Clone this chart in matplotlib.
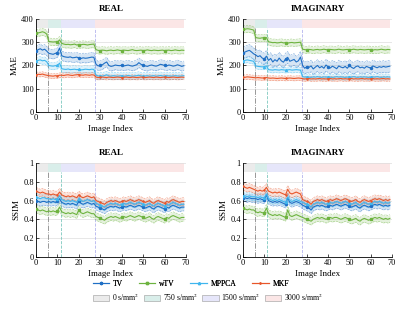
import matplotlib
matplotlib.use("Agg")
import matplotlib.pyplot as plt
import numpy as np
from matplotlib.lines import Line2D
from matplotlib.patches import Patch

plt.rcParams['font.family'] = ['Liberation Serif', 'DejaVu Serif']
plt.rcParams['mathtext.fontset'] = 'stix'

idx = np.arange(70)
methods = ['TV', 'wTV', 'MPPCA', 'MKF']
b_labels = ['0 s/mm$^2$', '750 s/mm$^2$', '1500 s/mm$^2$', '3000 s/mm$^2$']
b_edges = [0, 5.5, 11.5, 27.5, 69]

# ---- MAE real
mae_re_tv = [262, 268, 272, 266, 270, 262,
             252, 250, 248, 252, 255, 275,
             242, 238, 236, 235, 237, 233, 234, 236, 232, 230, 233, 231, 232, 234, 236, 235,
             205, 198, 200, 203, 210, 215, 200, 196, 198, 202, 200, 199, 201, 198, 200, 202, 199, 197, 200, 203, 212,
             205, 200, 198, 196, 200, 202, 199, 197, 200, 205, 203, 200, 198, 202, 200, 197, 199, 203, 200, 196, 199]
mae_re_wtv = [338, 340, 342, 345, 342, 335,
              303, 302, 301, 302, 300, 310,
              295, 292, 290, 291, 289, 290, 292, 288, 290, 289, 291, 290, 288, 290, 291, 292,
              268, 265, 264, 266, 265, 263, 265, 266, 264, 265, 267, 265, 264, 266, 265, 264, 266, 268, 265, 264, 265,
              266, 264, 265, 267, 265, 264, 266, 265, 264, 265, 266, 264, 265, 266, 264, 265, 267, 265, 264, 266, 265]
mae_re_mppca = [218, 222, 224, 220, 222, 216,
                200, 198, 197, 199, 200, 210,
                186, 184, 183, 185, 182, 183, 184, 182, 183, 181, 182, 184, 183, 182, 184, 183,
                158, 155, 156, 154, 157, 160, 155, 154, 156, 155, 154, 155, 156, 154, 155, 157, 155, 154, 155, 156, 158,
                155, 154, 155, 156, 154, 155, 156, 154, 155, 157, 155, 154, 156, 155, 154, 155, 156, 155, 154, 155, 156]
mae_re_mkf = [160, 162, 161, 163, 160, 158,
              156, 155, 154, 156, 155, 158,
              158, 157, 159, 160, 158, 157, 159, 160, 161, 159, 158, 160, 159, 158, 160, 159,
              150, 148, 149, 150, 149, 148, 150, 149, 148, 149, 150, 149, 148, 149, 150, 149, 148, 150, 149, 148, 149,
              150, 149, 148, 149, 150, 149, 148, 150, 149, 148, 149, 150, 149, 148, 149, 150, 149, 148, 149, 150, 149]

# ---- MAE imaginary
mae_im_tv = [255, 258, 262, 265, 258, 250,
             245, 238, 242, 232, 228, 240,
             222, 230, 215, 225, 218, 232, 220, 214, 228, 235, 218, 222, 226, 215, 220, 236,
             200, 188, 195, 192, 198, 185, 193, 200, 190, 196, 188, 202, 194, 189, 197, 192, 186, 198, 193, 190, 196,
             188, 200, 192, 187, 195, 198, 190, 193, 188, 196, 192, 189, 198, 194, 190, 195, 192, 196, 193, 195, 197]
mae_im_wtv = [355, 356, 358, 357, 355, 352,
              320, 318, 317, 319, 318, 320,
              302, 300, 298, 299, 297, 298, 300, 297, 298, 296, 298, 299, 297, 298, 299, 300,
              270, 268, 267, 269, 268, 266, 268, 269, 267, 268, 270, 268, 267, 269, 268, 267, 268, 270, 268, 267, 268,
              269, 267, 268, 270, 268, 267, 269, 268, 267, 268, 269, 267, 266, 268, 267, 268, 270, 268, 267, 269, 268]
mae_im_mppca = [220, 222, 224, 222, 220, 218,
                198, 196, 195, 194, 195, 198,
                182, 181, 180, 182, 181, 180, 182, 181, 180, 181, 182, 180, 181, 182, 181, 180,
                152, 150, 151, 150, 149, 151, 150, 152, 150, 149, 151, 150, 151, 150, 149, 150, 152, 150, 151, 150, 149,
                150, 151, 150, 152, 150, 149, 151, 150, 151, 150, 149, 150, 151, 150, 152, 150, 149, 151, 150, 151, 150]
mae_im_mkf = [150, 149, 151, 150, 149, 148,
              147, 148, 147, 146, 147, 148,
              146, 145, 146, 145, 144, 145, 146, 145, 144, 145, 146, 145, 144, 145, 146, 145,
              143, 142, 143, 144, 142, 143, 142, 143, 144, 142, 143, 142, 143, 144, 142, 143, 142, 143, 144, 142, 143,
              142, 143, 144, 142, 143, 142, 143, 144, 142, 143, 142, 143, 144, 142, 143, 142, 143, 144, 142, 143, 142]

# ---- SSIM real
ssim_re_tv = [0.60, 0.59, 0.58, 0.59, 0.59, 0.58,
              0.59, 0.58, 0.59, 0.58, 0.59, 0.62,
              0.58, 0.57, 0.56, 0.57, 0.56, 0.57, 0.56, 0.55, 0.60, 0.57, 0.56, 0.57, 0.58, 0.57, 0.56, 0.57,
              0.54, 0.53, 0.52, 0.51, 0.50, 0.52, 0.53, 0.54, 0.53, 0.54, 0.53, 0.52, 0.53, 0.54, 0.53, 0.54, 0.55,
              0.54, 0.53, 0.54, 0.55, 0.54, 0.53, 0.52, 0.53, 0.54, 0.52, 0.51, 0.53, 0.54, 0.53, 0.52, 0.51, 0.53,
              0.52, 0.54, 0.55, 0.54, 0.53, 0.52, 0.53, 0.53]
ssim_re_wtv = [0.51, 0.50, 0.49, 0.50, 0.49, 0.48,
               0.49, 0.48, 0.49, 0.48, 0.49, 0.53,
               0.48, 0.47, 0.46, 0.47, 0.46, 0.47, 0.46, 0.45, 0.50, 0.47, 0.46, 0.47, 0.48, 0.47, 0.46, 0.46,
               0.43, 0.42, 0.41, 0.40, 0.39, 0.41, 0.42, 0.43, 0.42, 0.43, 0.42, 0.41, 0.42, 0.43, 0.42, 0.43, 0.44,
               0.43, 0.42, 0.43, 0.44, 0.43, 0.42, 0.41, 0.42, 0.43, 0.41, 0.40, 0.42, 0.43, 0.42, 0.41, 0.40, 0.42,
               0.41, 0.43, 0.44, 0.43, 0.42, 0.41, 0.42, 0.42]
ssim_re_mppca = [0.64, 0.63, 0.62, 0.63, 0.63, 0.62,
                 0.62, 0.61, 0.62, 0.61, 0.62, 0.65,
                 0.61, 0.60, 0.59, 0.60, 0.59, 0.60, 0.59, 0.58, 0.62, 0.60, 0.59, 0.60, 0.61, 0.60, 0.59, 0.60,
                 0.57, 0.56, 0.55, 0.54, 0.53, 0.55, 0.56, 0.57, 0.56, 0.57, 0.56, 0.55, 0.56, 0.57, 0.56, 0.57, 0.58,
                 0.57, 0.56, 0.57, 0.58, 0.57, 0.56, 0.55, 0.56, 0.57, 0.55, 0.54, 0.56, 0.57, 0.56, 0.55, 0.54, 0.56,
                 0.55, 0.57, 0.58, 0.57, 0.56, 0.55, 0.56, 0.56]
ssim_re_mkf = [0.70, 0.69, 0.68, 0.69, 0.68, 0.67,
               0.67, 0.66, 0.67, 0.66, 0.66, 0.69,
               0.66, 0.65, 0.64, 0.65, 0.64, 0.65, 0.64, 0.63, 0.66, 0.64, 0.63, 0.64, 0.65, 0.64, 0.63, 0.64,
               0.60, 0.59, 0.58, 0.57, 0.56, 0.58, 0.59, 0.60, 0.59, 0.60, 0.59, 0.58, 0.59, 0.60, 0.59, 0.60, 0.61,
               0.60, 0.59, 0.60, 0.61, 0.60, 0.59, 0.58, 0.59, 0.60, 0.58, 0.57, 0.59, 0.60, 0.59, 0.58, 0.57, 0.59,
               0.58, 0.60, 0.61, 0.60, 0.59, 0.58, 0.59, 0.59]

# ---- SSIM imaginary
ssim_im_tv = [0.63, 0.63, 0.62, 0.63, 0.62, 0.62,
              0.62, 0.61, 0.62, 0.61, 0.61, 0.66,
              0.60, 0.59, 0.58, 0.59, 0.58, 0.59, 0.58, 0.57, 0.56, 0.63, 0.58, 0.57, 0.58, 0.59, 0.58, 0.57,
              0.55, 0.54, 0.53, 0.52, 0.50, 0.53, 0.54, 0.55, 0.54, 0.55, 0.54, 0.53, 0.54, 0.55, 0.54, 0.55, 0.56,
              0.55, 0.54, 0.55, 0.56, 0.55, 0.54, 0.53, 0.54, 0.55, 0.53, 0.52, 0.54, 0.55, 0.54, 0.53, 0.54, 0.55,
              0.56, 0.55, 0.56, 0.55, 0.54, 0.55, 0.54, 0.55]
ssim_im_wtv = [0.52, 0.51, 0.50, 0.51, 0.50, 0.50,
               0.48, 0.47, 0.48, 0.47, 0.47, 0.52,
               0.46, 0.45, 0.44, 0.45, 0.44, 0.45, 0.44, 0.43, 0.42, 0.50, 0.44, 0.43, 0.44, 0.45, 0.44, 0.43,
               0.42, 0.41, 0.40, 0.39, 0.38, 0.40, 0.41, 0.42, 0.41, 0.42, 0.41, 0.40, 0.41, 0.42, 0.41, 0.42, 0.42,
               0.41, 0.40, 0.41, 0.42, 0.41, 0.40, 0.39, 0.40, 0.41, 0.39, 0.38, 0.40, 0.41, 0.40, 0.39, 0.40, 0.41,
               0.42, 0.41, 0.42, 0.41, 0.40, 0.41, 0.40, 0.41]
ssim_im_mppca = [0.65, 0.65, 0.64, 0.65, 0.64, 0.64,
                 0.64, 0.63, 0.64, 0.63, 0.63, 0.67,
                 0.62, 0.61, 0.60, 0.61, 0.60, 0.61, 0.60, 0.59, 0.58, 0.64, 0.60, 0.59, 0.60, 0.61, 0.60, 0.59,
                 0.58, 0.57, 0.56, 0.55, 0.53, 0.56, 0.57, 0.58, 0.57, 0.58, 0.57, 0.56, 0.57, 0.58, 0.57, 0.58, 0.59,
                 0.58, 0.57, 0.58, 0.59, 0.58, 0.57, 0.56, 0.57, 0.58, 0.56, 0.55, 0.57, 0.58, 0.57, 0.56, 0.57, 0.58,
                 0.59, 0.58, 0.59, 0.58, 0.57, 0.58, 0.57, 0.58]
ssim_im_mkf = [0.75, 0.74, 0.73, 0.74, 0.73, 0.72,
               0.71, 0.70, 0.71, 0.70, 0.71, 0.74,
               0.70, 0.69, 0.68, 0.69, 0.68, 0.69, 0.68, 0.67, 0.66, 0.72, 0.68, 0.67, 0.68, 0.69, 0.68, 0.67,
               0.61, 0.60, 0.59, 0.58, 0.56, 0.59, 0.60, 0.61, 0.60, 0.61, 0.60, 0.59, 0.60, 0.61, 0.60, 0.61, 0.62,
               0.61, 0.60, 0.61, 0.62, 0.61, 0.60, 0.59, 0.60, 0.61, 0.59, 0.58, 0.60, 0.61, 0.60, 0.59, 0.60, 0.61,
               0.62, 0.61, 0.62, 0.61, 0.60, 0.61, 0.60, 0.61]

# std of each method (band half-width)
mae_re_std = [20, 15, 15, 10]
mae_im_std = [25, 15, 12, 10]
ssim_re_std = [0.04, 0.04, 0.04, 0.04]
ssim_im_std = [0.04, 0.04, 0.04, 0.04]

colors = ['#1f6fc5', '#6db33f', '#3fb6ee', '#e8562a']
markers = ['o', 's', '^', '+']
b_colors = ['#ebebeb', '#d9eeea', '#e6e6fa', '#fbe6e6']
v_colors = ['#888888', '#7cc8be', '#b4b4ee']
v_styles = ['-.', '--', '--']

panels = [
    ('REAL', 'MAE', [mae_re_tv, mae_re_wtv, mae_re_mppca, mae_re_mkf], mae_re_std, 400, [0.09, 0.64, 0.375, 0.299]),
    ('IMAGINARY', 'MAE', [mae_im_tv, mae_im_wtv, mae_im_mppca, mae_im_mkf], mae_im_std, 400, [0.6075, 0.64, 0.3725, 0.299]),
    ('REAL', 'SSIM', [ssim_re_tv, ssim_re_wtv, ssim_re_mppca, ssim_re_mkf], ssim_re_std, 1, [0.09, 0.174, 0.375, 0.302]),
    ('IMAGINARY', 'SSIM', [ssim_im_tv, ssim_im_wtv, ssim_im_mppca, ssim_im_mkf], ssim_im_std, 1, [0.6075, 0.174, 0.3725, 0.302]),
]

fig = plt.figure(figsize=(4.0, 3.11), dpi=100)
for title, ylab, series, stds, ymax, pos in panels:
    ax = fig.add_axes(pos)
    for i in range(4):
        ax.axvspan(b_edges[i], b_edges[i+1], ymin=0.9, ymax=1.0, color=b_colors[i], lw=0, zorder=0)
    for i in range(3):
        ax.axvline(b_edges[i+1], ymin=0, ymax=0.9, color=v_colors[i], ls=v_styles[i], lw=0.6, zorder=1)
    for y, sd, c, m in zip(series, stds, colors, markers):
        y = np.array(y)
        ax.fill_between(idx, y - sd, y + sd, color=c, alpha=0.18, lw=0, zorder=2)
        ax.plot(idx, y - sd, color=c, ls='--', lw=0.4, alpha=0.6, zorder=2)
        ax.plot(idx, y + sd, color=c, ls='--', lw=0.4, alpha=0.6, zorder=2)
        ax.plot(idx, y, color=c, lw=0.8, marker=m, ms=1.5, markevery=10, zorder=3)
    ax.set_xlim(0, 70)
    ax.set_ylim(0, ymax)
    if ymax == 400:
        ax.set_yticks([0, 100, 200, 300, 400])
    else:
        ax.set_yticks([0, 0.2, 0.4, 0.6, 0.8, 1])
        ax.set_yticklabels(['0', '0.2', '0.4', '0.6', '0.8', '1'])
    ax.set_xticks(range(0, 71, 10))
    ax.grid(axis='y', color='#dddddd', lw=0.5)
    ax.set_axisbelow(True)
    ax.spines['top'].set_visible(False)
    ax.spines['right'].set_visible(False)
    [s.set_linewidth(0.6) for s in ax.spines.values()]
    ax.tick_params(axis='both', labelsize=6, length=2, width=0.5, direction='in', pad=1.5)
    ax.set_title(title, fontsize=6.5, fontweight='bold', pad=6)
    ax.set_ylabel(ylab, fontsize=6.5, labelpad=2)
    ax.set_xlabel('Image Index', fontsize=6.5, labelpad=2)

h1 = [Line2D([], [], color=c, lw=0.8, marker=m, ms=1.5) for c, m in zip(colors, markers)]
leg1 = fig.legend(h1, methods, loc='center left', bbox_to_anchor=(0.222, 0.088), ncol=4, frameon=False,
                  fontsize=5.5, handlelength=2.2, handletextpad=0.5, columnspacing=2.0, borderpad=0)
h2 = [Patch(facecolor=c, edgecolor='#999999', lw=0.4) for c in b_colors]
fig.legend(h2, b_labels, loc='center left', bbox_to_anchor=(0.222, 0.045), ncol=4, frameon=False,
           fontsize=5.5, handlelength=2.2, handleheight=0.7, handletextpad=0.3, columnspacing=0.6, borderpad=0)
fig.add_artist(leg1)

fig.savefig('out.png', dpi=100)
